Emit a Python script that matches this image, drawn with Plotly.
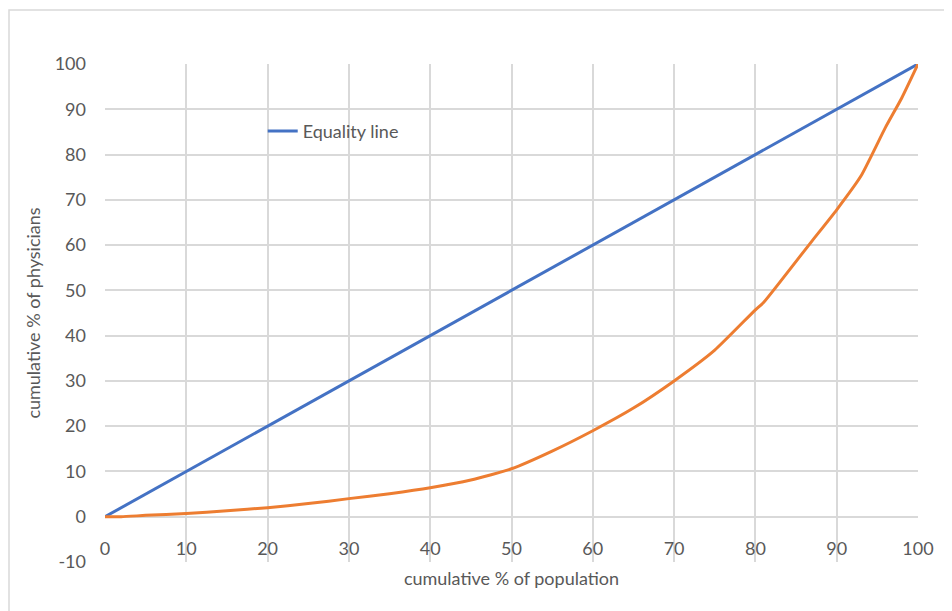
import plotly.graph_objects as go

pop_equality = [0, 100]
phys_equality = [0, 100]

pop_curve = [0, 2, 5, 10, 15, 20, 25, 30, 35, 40, 45, 50, 55, 60, 65, 70, 75, 80, 81, 87, 90, 93, 96, 98, 100]
phys_curve = [0, 0.0, 0.3, 0.7, 1.3, 2.0, 2.9, 4.0, 5.1, 6.4, 8.1, 10.6, 14.5, 19.0, 24.0, 30.0, 36.8, 45.7, 47.3, 61.0, 67.8, 75.3, 86.0, 92.5, 100]

x_ticks = list(range(0, 101, 10))
y_ticks = list(range(-10, 101, 10))
y_tick_text = ["-10"] + [str(v) for v in y_ticks[1:]]

font_fam = "Lato, 'Open Sans', sans-serif"
txt_col = "#595959"
grid_col = "#D9D9D9"

fig = go.Figure()
fig.add_trace(go.Scatter(x=pop_equality, y=phys_equality, mode="lines",
                         name="Equality line", line=dict(color="#4472C4", width=3)))
fig.add_trace(go.Scatter(x=pop_curve, y=phys_curve, mode="lines", name="Physicians",
                         showlegend=False,
                         line=dict(color="#ED7D31", width=3, shape="spline", smoothing=0.5)))

fig.update_layout(
    width=944, height=603,
    margin=dict(l=97, r=34, t=56, b=49),
    paper_bgcolor="white", plot_bgcolor="white",
    font=dict(family=font_fam, color=txt_col, size=18),
    legend=dict(x=0.194, y=0.865, xanchor="left", yanchor="middle",
                bgcolor="rgba(0,0,0,0)", font=dict(size=18, color=txt_col)),
    xaxis=dict(range=[0, 100], tickvals=x_ticks, showgrid=True, gridcolor=grid_col,
               gridwidth=1.5, zeroline=False, showline=False, ticks="",
               ticklabelstandoff=-26,
               title=dict(text="cumulative % of population", standoff=14, font=dict(size=18))),
    yaxis=dict(range=[-10, 100], tickvals=y_ticks, ticktext=y_tick_text, showgrid=True,
               gridcolor=grid_col, gridwidth=1.5, zeroline=False, showline=False, ticks="",
               ticklabelstandoff=18,
               title=dict(text="cumulative % of physicians", standoff=9, font=dict(size=18))),
    shapes=[dict(type="rect", xref="paper", yref="paper",
                 x0=(9 - 105) / 813, x1=2.0, y0=-2.0, y1=(562 - 10) / 498,
                 line=dict(color=grid_col, width=1.5), layer="below")],
)

fig.write_html("out.html")
